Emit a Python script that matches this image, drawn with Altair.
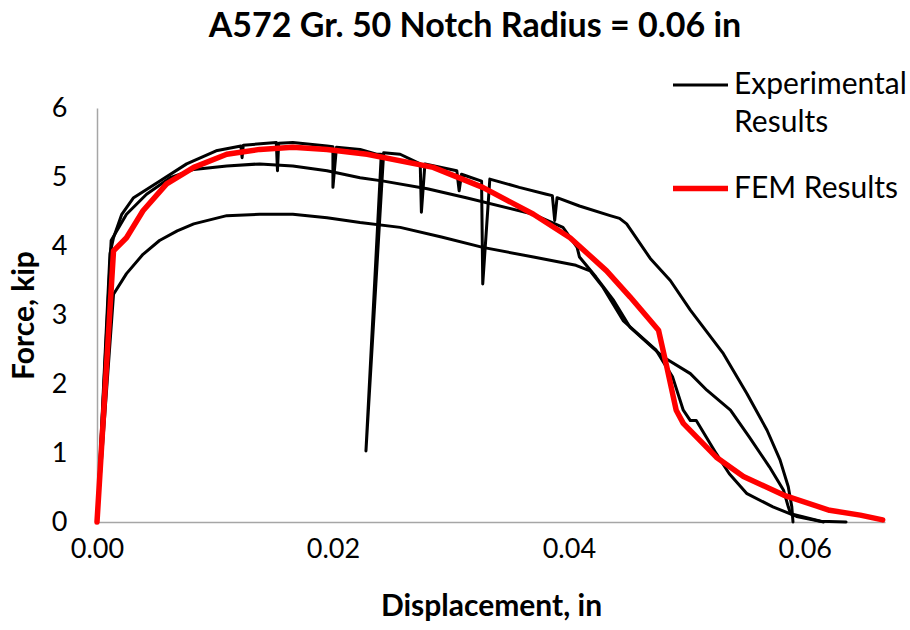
import altair as alt
import pandas as pd

# ---- data (displacement in inches, force in kip) ----
# Experimental specimen 1 (upper curve with unloading spikes)
exp1_x = [0.0, 0.0011, 0.0014, 0.0021, 0.0031, 0.0053, 0.0076, 0.0101, 0.0122, 0.0123, 0.0124,
          0.0152, 0.0153, 0.0154, 0.0166, 0.0195, 0.0200, 0.0200, 0.0203, 0.0223, 0.0237, 0.0241,
          0.0228, 0.0243, 0.0257, 0.0274, 0.0275, 0.0278, 0.0305, 0.0307, 0.0309, 0.0326, 0.0327,
          0.0333, 0.0358, 0.0381, 0.0386, 0.0388, 0.0390, 0.0409, 0.0435, 0.0443, 0.0449, 0.0469,
          0.0486, 0.0503, 0.0531, 0.0551, 0.0568, 0.0579, 0.0586, 0.0589, 0.0590]
exp1_y = [0.0, 3.89, 4.12, 4.46, 4.70, 4.94, 5.19, 5.38, 5.45, 5.28, 5.46,
          5.50, 5.09, 5.49, 5.50, 5.45, 5.44, 4.85, 5.43, 5.40, 5.33, 5.33,
          1.03, 5.35, 5.33, 5.19, 4.49, 5.19, 5.09, 4.80, 5.04, 4.94, 3.45,
          4.97, 4.85, 4.75, 4.73, 4.37, 4.70, 4.58, 4.44, 4.40, 4.32, 3.82,
          3.50, 3.07, 2.44, 1.86, 1.33, 0.90, 0.51, 0.22, 0.0]

# Experimental specimen 2 (middle curve)
exp2_x = [0.0, 0.0012, 0.0025, 0.0042, 0.0062, 0.0082, 0.0110, 0.0138, 0.0166, 0.0195, 0.0223,
          0.0243, 0.0280, 0.0313, 0.0370, 0.0395, 0.0407, 0.0409, 0.0423, 0.0438, 0.0452, 0.0480,
          0.0503, 0.0517, 0.0537, 0.0553, 0.0570, 0.0582, 0.0586, 0.0588, 0.0616]
exp2_y = [0.0, 4.08, 4.46, 4.75, 4.99, 5.11, 5.16, 5.19, 5.16, 5.09, 4.99,
          4.94, 4.83, 4.70, 4.46, 4.27, 3.98, 3.84, 3.55, 3.21, 2.82, 2.39,
          2.15, 1.91, 1.62, 1.23, 0.80, 0.46, 0.22, 0.12, 0.0]

# Experimental specimen 3 (lower curve)
exp3_x = [0.0, 0.0014, 0.0025, 0.0039, 0.0053, 0.0068, 0.0082, 0.0110, 0.0138, 0.0166, 0.0195,
          0.0223, 0.0257, 0.0292, 0.0327, 0.0370, 0.0406, 0.0418, 0.0429, 0.0446, 0.0474, 0.0488,
          0.0497, 0.0503, 0.0508, 0.0525, 0.0536, 0.0551, 0.0573, 0.0593, 0.0613, 0.0635]
exp3_y = [0.0, 3.30, 3.60, 3.88, 4.08, 4.22, 4.32, 4.44, 4.46, 4.46, 4.41,
          4.34, 4.27, 4.13, 3.98, 3.84, 3.72, 3.64, 3.40, 2.92, 2.49, 2.10,
          1.62, 1.47, 1.47, 0.99, 0.70, 0.41, 0.22, 0.08, 0.01, 0.0]

# FEM prediction
fem_x = [0.0, 0.0014, 0.0025, 0.0039, 0.0059, 0.0082, 0.0110, 0.0138, 0.0166, 0.0195, 0.0229,
         0.0285, 0.0327, 0.0370, 0.0401, 0.0432, 0.0452, 0.0469, 0.0476, 0.0483, 0.0491, 0.0497,
         0.0525, 0.0548, 0.0582, 0.0621, 0.0647, 0.0666]
fem_y = [0.0, 3.93, 4.12, 4.51, 4.90, 5.14, 5.33, 5.40, 5.43, 5.40, 5.33,
         5.14, 4.85, 4.46, 4.12, 3.64, 3.26, 2.92, 2.78, 2.25, 1.62, 1.43,
         0.94, 0.66, 0.39, 0.17, 0.10, 0.03]

series_names = ["Experimental Results", "FEM Results"]
x_ticks = [0.0, 0.02, 0.04, 0.06]
y_ticks = [0, 1, 2, 3, 4, 5, 6]

rows = []
for curve, xs, ys, s in [("exp1", exp1_x, exp1_y, series_names[0]),
                         ("exp2", exp2_x, exp2_y, series_names[0]),
                         ("exp3", exp3_x, exp3_y, series_names[0]),
                         ("fem", fem_x, fem_y, series_names[1])]:
    for i, (xv, yv) in enumerate(zip(xs, ys)):
        rows.append({"curve": curve, "series": s, "i": i, "disp": xv, "force": yv})
df = pd.DataFrame(rows)

FONT = "Lato"

color_scale = alt.Scale(domain=series_names, range=["#000000", "#ff0000"])
width_scale = alt.Scale(domain=series_names, range=[3, 5.5])

legend = alt.Legend(
    title=None, orient="none", legendX=573, legendY=-52,
    symbolType="stroke", symbolSize=3025, labelFont=FONT, labelFontSize=30,
    labelColor="#000000", labelOffset=3, labelLimit=0, rowPadding=20,
    labelBaseline="middle",
    labelExpr="datum.label == 'Experimental Results' ? ['Experimental', 'Results'] : datum.label",
)

x_enc = alt.X("disp:Q", scale=alt.Scale(domain=[0, 0.0668], nice=False, zero=False),
              axis=alt.Axis(values=x_ticks, format=".2f", title="Displacement, in",
                            labelFlush=False))
y_enc = alt.Y("force:Q", scale=alt.Scale(domain=[0, 6], nice=False),
              axis=alt.Axis(values=y_ticks, format="d", title="Force, kip"))

base = alt.Chart(df).mark_line(strokeJoin="round", strokeCap="round", clip=False).encode(
    x=x_enc,
    y=y_enc,
    color=alt.Color("series:N", scale=color_scale, legend=legend),
    strokeWidth=alt.StrokeWidth("series:N", scale=width_scale, legend=legend),
    detail="curve:N",
    order="i:Q",
)

exp_layer = base.transform_filter(alt.datum.series == series_names[0])
fem_layer = base.transform_filter(alt.datum.series == series_names[1])

chart = alt.layer(exp_layer, fem_layer).properties(
    width=788, height=414,
    title=alt.TitleParams("A572 Gr. 50 Notch Radius = 0.06 in", font=FONT, fontSize=34,
                          fontWeight="bold", color="#000000", anchor="middle", dx=-16, offset=12),
    autosize=alt.AutoSizeParams(type="none"),
    padding={"left": 97, "top": 108, "right": 25, "bottom": 108},
).configure(
    style={"guide-label": {"lineHeight": 38}}
).configure_view(stroke=None).configure_axis(
    grid=False, ticks=False, tickSize=0, domainColor="#a6a6a6", domainWidth=1.5,
    labelFont=FONT, labelFontSize=27, labelColor="#000000",
    titleFont=FONT, titleFontSize=30, titleFontWeight="bold", titleColor="#000000",
).configure_axisX(labelPadding=14, titlePadding=29).configure_axisY(
    labelPadding=30, titlePadding=12
)

chart.save("out.html", embed_options={"renderer": "svg", "actions": False})
